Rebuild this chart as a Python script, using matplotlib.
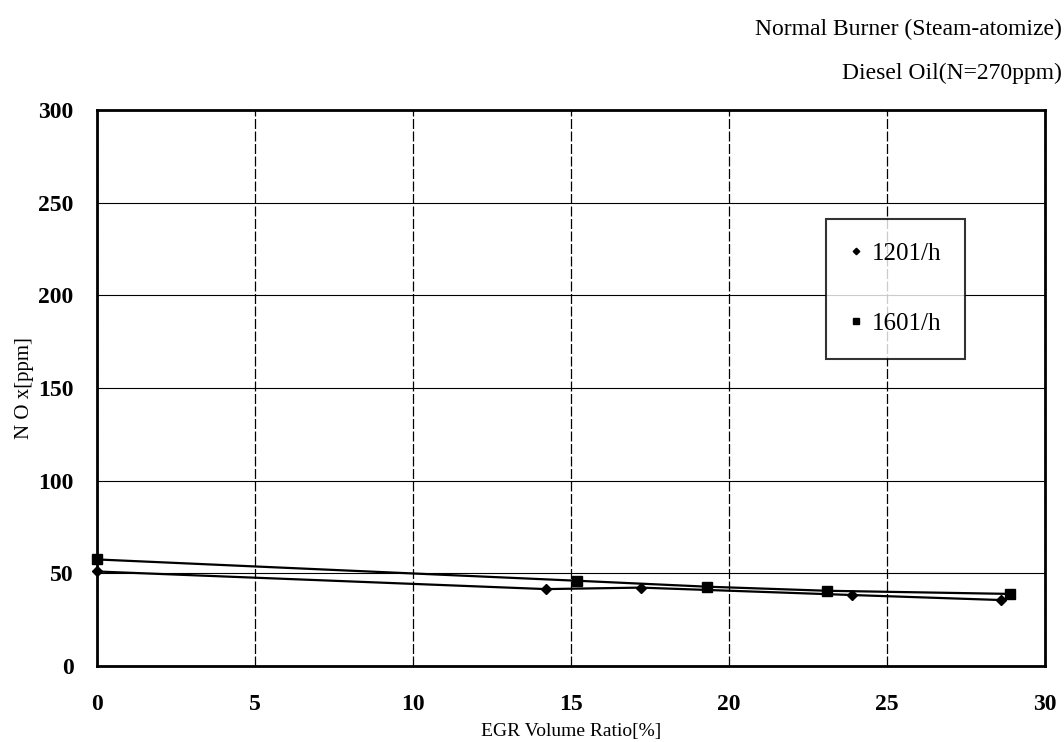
import matplotlib.pyplot as plt
import numpy as np

# NOx vs EGR ratio, two oil flow rates
egr_120 = np.array([0, 14.2, 17.2, 23.9, 28.6])
nox_120 = np.array([51, 41.5, 42.3, 38.3, 35.6])

egr_160 = np.array([0, 15.2, 19.3, 23.1, 28.9])
nox_160 = np.array([57.5, 46, 42.8, 40.6, 38.9])

xticks = [0, 5, 10, 15, 20, 25, 30]
yticks = [0, 50, 100, 150, 200, 250, 300]

serif = 'Liberation Serif'

fig = plt.figure(figsize=(10.64, 7.42), dpi=100)
ax = fig.add_axes([0.0912, 0.1024, 0.891, 0.7494])

ax.plot(egr_120, nox_120, color='black', lw=1.6, marker='D', ms=5.5,
        label='1201/h', clip_on=False)
ax.plot(egr_160, nox_160, color='black', lw=1.6, marker='s', ms=6.5,
        label='1601/h', clip_on=False)

ax.set_xlim(0, 30)
ax.set_ylim(0, 300)
ax.set_xticks(xticks)
ax.set_yticks(yticks)
ax.tick_params(axis='x', length=0, pad=20)
ax.tick_params(axis='y', length=0, pad=17)
for lab in ax.get_xticklabels() + ax.get_yticklabels():
    lab.set_fontfamily(serif)
    lab.set_fontweight('bold')
    lab.set_fontsize(17)

ax.grid(axis='x', color='black', lw=0.9, linestyle=(0, (8, 2)))
ax.grid(axis='y', color='black', lw=0.8)
for s in ax.spines.values():
    s.set_linewidth(2)

ax.set_xlabel('EGR Volume Ratio[%]', family=serif, fontsize=14, labelpad=6)
ax.set_ylabel('N O x[ppm]', family=serif, fontsize=15, labelpad=3)

leg = ax.legend(loc='upper left', bbox_to_anchor=(0.7555, 0.827), frameon=True,
                fancybox=False, edgecolor='black', handlelength=0.5,
                handletextpad=0.4, labelspacing=1.9, borderpad=0.95,
                prop={'family': serif, 'size': 18}, markerscale=0.6)
leg.get_frame().set_linewidth(1.5)
for h in leg.get_lines():
    h.set_linestyle('')

fig.text(0.998, 0.96, 'Normal Burner (Steam-atomize)', family=serif,
         fontsize=17, ha='right', va='center')
fig.text(0.998, 0.901, 'Diesel Oil(N=270ppm)', family=serif,
         fontsize=17, ha='right', va='center')

fig.savefig('out.png', dpi=100)
